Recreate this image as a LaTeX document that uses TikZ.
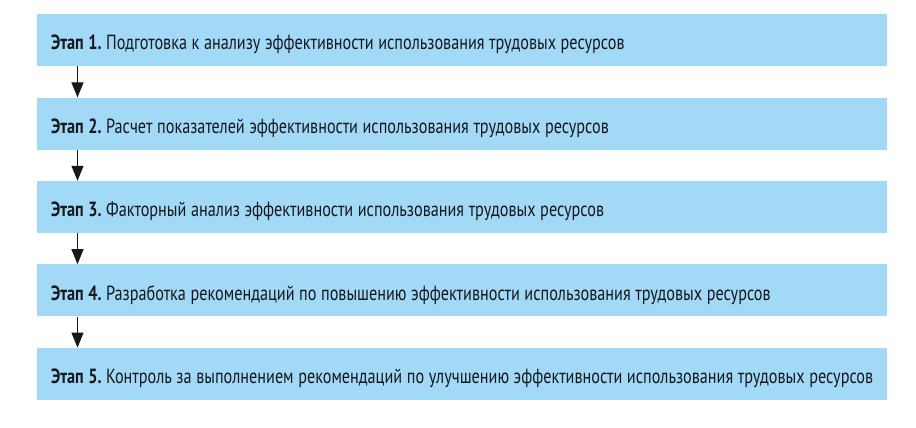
\documentclass[tikz,border=0pt]{standalone}
\usepackage{fontspec}
\setmainfont{PT Sans}[FakeStretch=0.79]
\usepackage{xcolor}
\usetikzlibrary{positioning, arrows.meta}
\definecolor{stageblue}{RGB}{161,217,246}
\definecolor{stagetext}{RGB}{22,24,28}
\newcommand{\stagefont}{\fontsize{20.5pt}{24pt}\selectfont}
\newcommand{\stagespace}{\frenchspacing\spaceskip=4.6pt plus 1pt minus 2pt\xspaceskip=4.6pt\relax\hspace*{7pt}}

\begin{document}
\begin{tikzpicture}[x=1pt, y=-1pt,
	stage/.style={rectangle, fill=stageblue, text=stagetext, minimum width=850pt, minimum height=52pt, text width=836pt, inner xsep=7pt, align=left, text height=19.4pt, text depth=0pt, font=\stagefont, execute at begin node=\stagespace},
	link/.style={line width=1.1pt, draw=stagetext, -{Triangle[length=15pt, width=12pt]}}]
	
	\useasboundingbox (0,0) rectangle (916,428);
	
	%Nodes
	\node (stage1) at (462,40.3) [stage]{\textbf{Этап 1.} Подготовка к анализу эффективности использования трудовых ресурсов};
	
	\node (stage2) at (462,123.6) [stage]{\textbf{Этап 2.} Расчет показателей эффективности использования трудовых ресурсов};
	
	\node (stage3) at (462,207) [stage]{\textbf{Этап 3.} Факторный анализ эффективности использования трудовых ресурсов};
	
	\node (stage4) at (462,290.4) [stage]{\textbf{Этап 4.} Разработка рекомендаций по повышению эффективности использования трудовых ресурсов};
	
	\node (stage5) at (462,373.8) [stage]{\textbf{Этап 5.} Контроль за выполнением рекомендаций по улучшению эффективности использования трудовых ресурсов};
	
	%Links
	\draw[link] ([xshift=40.7pt]stage1.south west) -- ([xshift=40.7pt]stage2.north west);
	\draw[link] ([xshift=40.7pt]stage2.south west) -- ([xshift=40.7pt]stage3.north west);
	\draw[link] ([xshift=40.7pt]stage3.south west) -- ([xshift=40.7pt]stage4.north west);
	\draw[link] ([xshift=40.7pt]stage4.south west) -- ([xshift=40.7pt]stage5.north west);
	
\end{tikzpicture}
\end{document}
